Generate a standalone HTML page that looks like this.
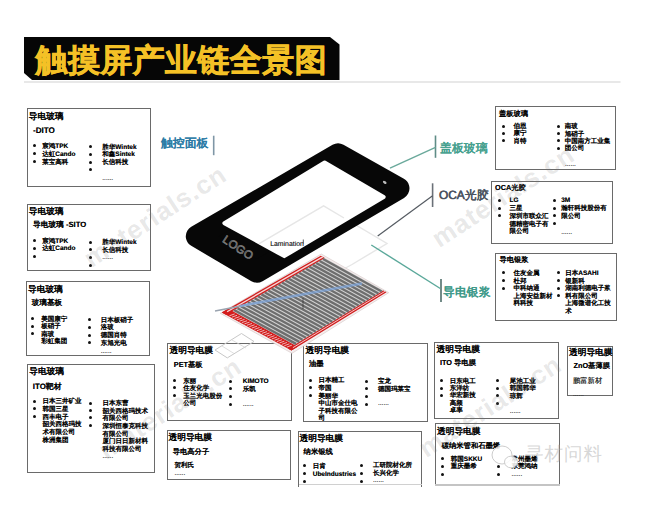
<!DOCTYPE html><html><head><meta charset="utf-8"><style>
*{margin:0;padding:0;box-sizing:border-box}
html,body{width:660px;height:508px;overflow:hidden;background:#fff}
body{position:relative;font-family:"Liberation Sans",sans-serif;text-rendering:geometricPrecision}
.t{position:absolute;white-space:nowrap;color:#000;text-shadow:0 0 0.5px rgba(0,0,0,0.55)}
.nt{text-shadow:none}
.ct{text-shadow:0 0 0.4px currentColor}
.b{position:absolute;border-radius:50%;background:#111}
.bx{position:absolute;border-style:solid;background:transparent}
svg{position:absolute;left:0;top:0}
</style></head><body><svg width="660" height="508" style="z-index:0">
<polygon points="24,37 330,37 339.5,44.5 339.5,80 32,80 24,73" fill="#060606"/>
<line x1="24" y1="82" x2="620.5" y2="82" stroke="#e0e0e0" stroke-width="1.3"/>
</svg>
<div class="t nt" style="left:35.5px;top:39.5px;font-size:31.9px;line-height:40px;font-weight:bold;color:#f4c126;letter-spacing:0.5px;-webkit-text-stroke:0.6px #f4c126">触摸屏产业链全景图</div>
<div class="bx" style="left:26.80px;top:108.30px;width:124.40px;height:78.90px;border-width:1.4px;border-color:#6a6a6a;"></div>
<div class="t" style="left:28.8px;top:110.84px;font-size:8.7px;line-height:11.31px;font-weight:bold;color:#000;letter-spacing:0px;">导电玻璃</div>
<div class="t" style="left:33.0px;top:125.73px;font-size:8.1px;line-height:10.53px;font-weight:bold;color:#000;letter-spacing:0px;">-DITO</div>
<div class="b" style="left:32.90px;top:143.80px;width:3.00px;height:3.00px"></div>
<div class="b" style="left:32.90px;top:151.80px;width:3.00px;height:3.00px"></div>
<div class="b" style="left:32.90px;top:159.70px;width:3.00px;height:3.00px"></div>
<div class="t" style="left:42.3px;top:142.98px;font-size:6.5px;line-height:8.45px;font-weight:bold;color:#000;letter-spacing:0px;">宸鸿TPK</div>
<div class="t" style="left:42.3px;top:150.78px;font-size:6.5px;line-height:8.45px;font-weight:bold;color:#000;letter-spacing:0px;">达虹Cando</div>
<div class="t" style="left:42.3px;top:158.58px;font-size:6.5px;line-height:8.45px;font-weight:bold;color:#000;letter-spacing:0px;">莱宝高科</div>
<div class="b" style="left:89.20px;top:144.90px;width:3.00px;height:3.00px"></div>
<div class="b" style="left:89.20px;top:152.90px;width:3.00px;height:3.00px"></div>
<div class="b" style="left:89.20px;top:160.50px;width:3.00px;height:3.00px"></div>
<div class="b" style="left:89.20px;top:168.00px;width:3.00px;height:3.00px"></div>
<div class="t" style="left:102.3px;top:143.58px;font-size:6.5px;line-height:8.45px;font-weight:bold;color:#000;letter-spacing:0px;">胜华Wintek</div>
<div class="t" style="left:102.3px;top:151.38px;font-size:6.5px;line-height:8.45px;font-weight:bold;color:#000;letter-spacing:0px;">和鑫Sintek</div>
<div class="t" style="left:102.3px;top:159.18px;font-size:6.5px;line-height:8.45px;font-weight:bold;color:#000;letter-spacing:0px;">长信科技</div>
<div class="t ct" style="left:102.3px;top:174.68px;font-size:6.5px;line-height:8.45px;font-weight:normal;color:#333;letter-spacing:0px;">......</div>
<div class="bx" style="left:26.80px;top:203.80px;width:124.40px;height:67.40px;border-width:1.4px;border-color:#6a6a6a;"></div>
<div class="t" style="left:28.8px;top:205.84px;font-size:8.7px;line-height:11.31px;font-weight:bold;color:#000;letter-spacing:0px;">导电玻璃</div>
<div class="t" style="left:33.0px;top:219.90px;font-size:7.7px;line-height:10.01px;font-weight:bold;color:#000;letter-spacing:0px;">导电玻璃 -SITO</div>
<div class="b" style="left:32.90px;top:239.10px;width:3.00px;height:3.00px"></div>
<div class="b" style="left:32.90px;top:246.70px;width:3.00px;height:3.00px"></div>
<div class="b" style="left:32.90px;top:255.00px;width:3.00px;height:3.00px"></div>
<div class="t" style="left:42.3px;top:237.78px;font-size:6.5px;line-height:8.45px;font-weight:bold;color:#000;letter-spacing:0px;">宸鸿TPK</div>
<div class="t" style="left:42.3px;top:245.38px;font-size:6.5px;line-height:8.45px;font-weight:bold;color:#000;letter-spacing:0px;">达虹Cando</div>
<div class="b" style="left:89.20px;top:240.50px;width:3.00px;height:3.00px"></div>
<div class="b" style="left:89.20px;top:248.30px;width:3.00px;height:3.00px"></div>
<div class="b" style="left:89.20px;top:256.10px;width:3.00px;height:3.00px"></div>
<div class="b" style="left:89.20px;top:263.50px;width:3.00px;height:3.00px"></div>
<div class="t" style="left:102.3px;top:239.18px;font-size:6.5px;line-height:8.45px;font-weight:bold;color:#000;letter-spacing:0px;">胜华Wintek</div>
<div class="t" style="left:102.3px;top:246.98px;font-size:6.5px;line-height:8.45px;font-weight:bold;color:#000;letter-spacing:0px;">长信科技</div>
<div class="t ct" style="left:102.3px;top:254.37px;font-size:6.5px;line-height:8.45px;font-weight:normal;color:#333;letter-spacing:0px;">......</div>
<div class="bx" style="left:25.80px;top:281.10px;width:124.40px;height:75.30px;border-width:1.4px;border-color:#6a6a6a;"></div>
<div class="t" style="left:28.0px;top:283.75px;font-size:8.7px;line-height:11.31px;font-weight:bold;color:#000;letter-spacing:0px;">导电玻璃</div>
<div class="t" style="left:31.7px;top:297.86px;font-size:7.6px;line-height:9.88px;font-weight:bold;color:#000;letter-spacing:0px;">玻璃基板</div>
<div class="b" style="left:31.20px;top:317.00px;width:3.00px;height:3.00px"></div>
<div class="b" style="left:31.20px;top:324.50px;width:3.00px;height:3.00px"></div>
<div class="b" style="left:31.20px;top:331.50px;width:3.00px;height:3.00px"></div>
<div class="t" style="left:41.2px;top:315.67px;font-size:6.5px;line-height:8.45px;font-weight:bold;color:#000;letter-spacing:0px;">美国康宁</div>
<div class="t" style="left:41.2px;top:323.12px;font-size:6.5px;line-height:8.45px;font-weight:bold;color:#000;letter-spacing:0px;">板硝子</div>
<div class="t" style="left:41.2px;top:330.57px;font-size:6.5px;line-height:8.45px;font-weight:bold;color:#000;letter-spacing:0px;">南玻</div>
<div class="t" style="left:41.2px;top:338.02px;font-size:6.5px;line-height:8.45px;font-weight:bold;color:#000;letter-spacing:0px;">彩虹集团</div>
<div class="b" style="left:87.50px;top:318.10px;width:3.00px;height:3.00px"></div>
<div class="b" style="left:87.50px;top:325.50px;width:3.00px;height:3.00px"></div>
<div class="b" style="left:87.50px;top:333.50px;width:3.00px;height:3.00px"></div>
<div class="b" style="left:87.50px;top:341.00px;width:3.00px;height:3.00px"></div>
<div class="t" style="left:100.7px;top:316.77px;font-size:6.5px;line-height:8.45px;font-weight:bold;color:#000;letter-spacing:0px;">日本板硝子</div>
<div class="t" style="left:100.7px;top:324.42px;font-size:6.5px;line-height:8.45px;font-weight:bold;color:#000;letter-spacing:0px;">洛玻</div>
<div class="t" style="left:100.7px;top:332.07px;font-size:6.5px;line-height:8.45px;font-weight:bold;color:#000;letter-spacing:0px;">德国肖特</div>
<div class="t" style="left:100.7px;top:339.72px;font-size:6.5px;line-height:8.45px;font-weight:bold;color:#000;letter-spacing:0px;">东旭光电</div>
<div class="t ct" style="left:100.7px;top:347.57px;font-size:6.5px;line-height:8.45px;font-weight:normal;color:#333;letter-spacing:0px;">......</div>
<div class="bx" style="left:26.70px;top:363.60px;width:128.70px;height:109.60px;border-width:1.4px;border-color:#6a6a6a;"></div>
<div class="t" style="left:29.3px;top:366.05px;font-size:8.7px;line-height:11.31px;font-weight:bold;color:#000;letter-spacing:0px;">导电玻璃</div>
<div class="t" style="left:32.8px;top:381.76px;font-size:7.9px;line-height:10.27px;font-weight:bold;color:#000;letter-spacing:0px;">ITO靶材</div>
<div class="b" style="left:33.25px;top:399.70px;width:3.00px;height:3.00px"></div>
<div class="b" style="left:33.25px;top:407.10px;width:3.00px;height:3.00px"></div>
<div class="b" style="left:33.25px;top:414.50px;width:3.00px;height:3.00px"></div>
<div class="t" style="left:42.6px;top:398.37px;font-size:6.5px;line-height:8.45px;font-weight:bold;color:#000;letter-spacing:0px;">日本三井矿业</div>
<div class="t" style="left:42.6px;top:406.07px;font-size:6.5px;line-height:8.45px;font-weight:bold;color:#000;letter-spacing:0px;">韩国三星</div>
<div class="t" style="left:42.6px;top:413.77px;font-size:6.5px;line-height:8.45px;font-weight:bold;color:#000;letter-spacing:0px;">西丰电子</div>
<div class="t" style="left:42.6px;top:421.47px;font-size:6.5px;line-height:8.45px;font-weight:bold;color:#000;letter-spacing:0px;">韶关西格玛技</div>
<div class="t" style="left:42.6px;top:429.17px;font-size:6.5px;line-height:8.45px;font-weight:bold;color:#000;letter-spacing:0px;">术有限公司</div>
<div class="t" style="left:42.6px;top:436.87px;font-size:6.5px;line-height:8.45px;font-weight:bold;color:#000;letter-spacing:0px;">株洲集团</div>
<div class="b" style="left:89.30px;top:401.50px;width:3.00px;height:3.00px"></div>
<div class="b" style="left:89.30px;top:408.80px;width:3.00px;height:3.00px"></div>
<div class="b" style="left:89.30px;top:416.20px;width:3.00px;height:3.00px"></div>
<div class="b" style="left:89.30px;top:423.50px;width:3.00px;height:3.00px"></div>
<div class="t" style="left:102.4px;top:400.17px;font-size:6.5px;line-height:8.45px;font-weight:bold;color:#000;letter-spacing:0px;">日本东曹</div>
<div class="t" style="left:102.4px;top:407.77px;font-size:6.5px;line-height:8.45px;font-weight:bold;color:#000;letter-spacing:0px;">韶关西格玛技术</div>
<div class="t" style="left:102.4px;top:415.37px;font-size:6.5px;line-height:8.45px;font-weight:bold;color:#000;letter-spacing:0px;">有限公司</div>
<div class="t" style="left:102.4px;top:422.97px;font-size:6.5px;line-height:8.45px;font-weight:bold;color:#000;letter-spacing:0px;">深圳恒泰克科技</div>
<div class="t" style="left:102.4px;top:430.57px;font-size:6.5px;line-height:8.45px;font-weight:bold;color:#000;letter-spacing:0px;">有限公司</div>
<div class="t" style="left:102.4px;top:438.17px;font-size:6.5px;line-height:8.45px;font-weight:bold;color:#000;letter-spacing:0px;">厦门日日新材料</div>
<div class="t" style="left:102.4px;top:445.77px;font-size:6.5px;line-height:8.45px;font-weight:bold;color:#000;letter-spacing:0px;">科技有限公司</div>
<div class="t ct" style="left:102.4px;top:452.67px;font-size:6.5px;line-height:8.45px;font-weight:normal;color:#333;letter-spacing:0px;">......</div>
<div class="bx" style="left:167.20px;top:342.60px;width:125.20px;height:78.60px;border-width:1.4px;border-color:#6a6a6a;"></div>
<div class="t" style="left:169.5px;top:345.15px;font-size:8.7px;line-height:11.31px;font-weight:bold;color:#000;letter-spacing:0px;">透明导电膜</div>
<div class="t" style="left:173.8px;top:359.75px;font-size:7.3px;line-height:9.49px;font-weight:bold;color:#000;letter-spacing:0px;">PET基板</div>
<div class="b" style="left:173.30px;top:379.20px;width:3.00px;height:3.00px"></div>
<div class="b" style="left:173.30px;top:386.30px;width:3.00px;height:3.00px"></div>
<div class="b" style="left:173.30px;top:393.50px;width:3.00px;height:3.00px"></div>
<div class="t" style="left:183.2px;top:377.87px;font-size:6.5px;line-height:8.45px;font-weight:bold;color:#000;letter-spacing:0px;">东丽</div>
<div class="t" style="left:183.2px;top:385.32px;font-size:6.5px;line-height:8.45px;font-weight:bold;color:#000;letter-spacing:0px;">住友化学</div>
<div class="t" style="left:183.2px;top:392.77px;font-size:6.5px;line-height:8.45px;font-weight:bold;color:#000;letter-spacing:0px;">玉兰光电股份</div>
<div class="t" style="left:183.2px;top:400.22px;font-size:6.5px;line-height:8.45px;font-weight:bold;color:#000;letter-spacing:0px;">公司</div>
<div class="b" style="left:228.80px;top:380.40px;width:3.00px;height:3.00px"></div>
<div class="b" style="left:228.80px;top:387.30px;width:3.00px;height:3.00px"></div>
<div class="b" style="left:228.80px;top:395.20px;width:3.00px;height:3.00px"></div>
<div class="b" style="left:228.80px;top:402.50px;width:3.00px;height:3.00px"></div>
<div class="t" style="left:242.7px;top:378.17px;font-size:6.5px;line-height:8.45px;font-weight:bold;color:#000;letter-spacing:0px;">KIMOTO</div>
<div class="t" style="left:242.7px;top:385.77px;font-size:6.5px;line-height:8.45px;font-weight:bold;color:#000;letter-spacing:0px;">乐凯</div>
<div class="t ct" style="left:242.7px;top:401.17px;font-size:6.5px;line-height:8.45px;font-weight:normal;color:#333;letter-spacing:0px;">......</div>
<div class="bx" style="left:166.70px;top:429.50px;width:124.50px;height:50.60px;border-width:1.4px;border-color:#6a6a6a;"></div>
<div class="t" style="left:168.5px;top:431.75px;font-size:8.7px;line-height:11.31px;font-weight:bold;color:#000;letter-spacing:0px;">透明导电膜</div>
<div class="t" style="left:172.7px;top:446.65px;font-size:7.3px;line-height:9.49px;font-weight:bold;color:#000;letter-spacing:0px;">导电高分子</div>
<div class="t" style="left:174.4px;top:461.67px;font-size:6.5px;line-height:8.45px;font-weight:bold;color:#000;letter-spacing:0px;">贺利氏</div>
<div class="t ct" style="left:174.4px;top:469.67px;font-size:6.5px;line-height:8.45px;font-weight:normal;color:#333;letter-spacing:0px;">......</div>
<div class="bx" style="left:303.10px;top:342.90px;width:124.60px;height:78.80px;border-width:1.4px;border-color:#6a6a6a;"></div>
<div class="t" style="left:305.6px;top:345.15px;font-size:8.7px;line-height:11.31px;font-weight:bold;color:#000;letter-spacing:0px;">透明导电膜</div>
<div class="t" style="left:309.0px;top:359.06px;font-size:7.3px;line-height:9.49px;font-weight:bold;color:#000;letter-spacing:0px;">油墨</div>
<div class="b" style="left:308.80px;top:378.80px;width:3.00px;height:3.00px"></div>
<div class="b" style="left:308.80px;top:386.20px;width:3.00px;height:3.00px"></div>
<div class="b" style="left:308.80px;top:393.90px;width:3.00px;height:3.00px"></div>
<div class="t" style="left:318.5px;top:377.47px;font-size:6.5px;line-height:8.45px;font-weight:bold;color:#000;letter-spacing:0px;">日本精工</div>
<div class="t" style="left:318.5px;top:385.07px;font-size:6.5px;line-height:8.45px;font-weight:bold;color:#000;letter-spacing:0px;">帝国</div>
<div class="t" style="left:318.5px;top:392.67px;font-size:6.5px;line-height:8.45px;font-weight:bold;color:#000;letter-spacing:0px;">美丽华</div>
<div class="t" style="left:318.5px;top:400.27px;font-size:6.5px;line-height:8.45px;font-weight:bold;color:#000;letter-spacing:0px;">中山市金仕电</div>
<div class="t" style="left:318.5px;top:407.87px;font-size:6.5px;line-height:8.45px;font-weight:bold;color:#000;letter-spacing:0px;">子科技有限公</div>
<div class="t" style="left:318.5px;top:415.47px;font-size:6.5px;line-height:8.45px;font-weight:bold;color:#000;letter-spacing:0px;">司</div>
<div class="b" style="left:365.10px;top:379.50px;width:3.00px;height:3.00px"></div>
<div class="b" style="left:365.10px;top:386.80px;width:3.00px;height:3.00px"></div>
<div class="b" style="left:365.10px;top:394.80px;width:3.00px;height:3.00px"></div>
<div class="b" style="left:365.10px;top:402.50px;width:3.00px;height:3.00px"></div>
<div class="t" style="left:378.0px;top:378.17px;font-size:6.5px;line-height:8.45px;font-weight:bold;color:#000;letter-spacing:0px;">宝龙</div>
<div class="t" style="left:378.0px;top:385.57px;font-size:6.5px;line-height:8.45px;font-weight:bold;color:#000;letter-spacing:0px;">德国玛莱宝</div>
<div class="t ct" style="left:378.0px;top:400.27px;font-size:6.5px;line-height:8.45px;font-weight:normal;color:#333;letter-spacing:0px;">......</div>
<div class="bx" style="left:297.90px;top:430.70px;width:124.60px;height:56.00px;border-width:1.4px;border-color:#6a6a6a;border-bottom:none;"></div>
<div style="position:absolute;left:298.6px;top:483.6px;width:123.2px;height:1px;background:#d0d0d0"></div>
<div class="t" style="left:299.5px;top:432.95px;font-size:8.7px;line-height:11.31px;font-weight:bold;color:#000;letter-spacing:0px;">透明导电膜</div>
<div class="t" style="left:303.6px;top:447.06px;font-size:7.3px;line-height:9.49px;font-weight:bold;color:#000;letter-spacing:0px;">纳米银线</div>
<div class="b" style="left:303.30px;top:464.00px;width:3.00px;height:3.00px"></div>
<div class="b" style="left:303.30px;top:471.90px;width:3.00px;height:3.00px"></div>
<div class="b" style="left:303.30px;top:479.50px;width:3.00px;height:3.00px"></div>
<div class="t" style="left:312.7px;top:462.67px;font-size:6.5px;line-height:8.45px;font-weight:bold;color:#000;letter-spacing:0px;">日肯</div>
<div class="t" style="left:312.7px;top:470.57px;font-size:6.5px;line-height:8.45px;font-weight:bold;color:#000;letter-spacing:0px;">UbeIndustries</div>
<div class="b" style="left:360.10px;top:463.50px;width:3.00px;height:3.00px"></div>
<div class="b" style="left:360.10px;top:471.50px;width:3.00px;height:3.00px"></div>
<div class="b" style="left:360.10px;top:479.50px;width:3.00px;height:3.00px"></div>
<div class="t" style="left:373.0px;top:462.17px;font-size:6.5px;line-height:8.45px;font-weight:bold;color:#000;letter-spacing:0px;">工研院材化所</div>
<div class="t" style="left:373.0px;top:470.07px;font-size:6.5px;line-height:8.45px;font-weight:bold;color:#000;letter-spacing:0px;">长兴化学</div>
<div class="t ct" style="left:373.0px;top:477.47px;font-size:6.5px;line-height:8.45px;font-weight:normal;color:#333;letter-spacing:0px;">......</div>
<div class="bx" style="left:434.00px;top:341.90px;width:124.70px;height:77.10px;border-width:1.4px;border-color:#6a6a6a;"></div>
<div class="t" style="left:436.5px;top:343.85px;font-size:8.7px;line-height:11.31px;font-weight:bold;color:#000;letter-spacing:0px;">透明导电膜</div>
<div class="t" style="left:440.0px;top:358.45px;font-size:7.3px;line-height:9.49px;font-weight:bold;color:#000;letter-spacing:0px;">ITO 导电膜</div>
<div class="b" style="left:440.20px;top:379.00px;width:3.00px;height:3.00px"></div>
<div class="b" style="left:440.20px;top:386.50px;width:3.00px;height:3.00px"></div>
<div class="b" style="left:440.20px;top:394.10px;width:3.00px;height:3.00px"></div>
<div class="t" style="left:449.8px;top:377.67px;font-size:6.5px;line-height:8.45px;font-weight:bold;color:#000;letter-spacing:0px;">日东电工</div>
<div class="t" style="left:449.8px;top:384.97px;font-size:6.5px;line-height:8.45px;font-weight:bold;color:#000;letter-spacing:0px;">东洋纺</div>
<div class="t" style="left:449.8px;top:392.27px;font-size:6.5px;line-height:8.45px;font-weight:bold;color:#000;letter-spacing:0px;">华宏新技</div>
<div class="t" style="left:449.8px;top:399.57px;font-size:6.5px;line-height:8.45px;font-weight:bold;color:#000;letter-spacing:0px;">高频</div>
<div class="t" style="left:449.8px;top:406.87px;font-size:6.5px;line-height:8.45px;font-weight:bold;color:#000;letter-spacing:0px;">卓率</div>
<div class="b" style="left:496.20px;top:379.00px;width:3.00px;height:3.00px"></div>
<div class="b" style="left:496.20px;top:386.50px;width:3.00px;height:3.00px"></div>
<div class="b" style="left:496.20px;top:394.10px;width:3.00px;height:3.00px"></div>
<div class="b" style="left:496.20px;top:401.50px;width:3.00px;height:3.00px"></div>
<div class="t" style="left:509.8px;top:377.67px;font-size:6.5px;line-height:8.45px;font-weight:bold;color:#000;letter-spacing:0px;">尾池工业</div>
<div class="t" style="left:509.8px;top:385.22px;font-size:6.5px;line-height:8.45px;font-weight:bold;color:#000;letter-spacing:0px;">韩国韩华</div>
<div class="t" style="left:509.8px;top:392.77px;font-size:6.5px;line-height:8.45px;font-weight:bold;color:#000;letter-spacing:0px;">琼辉</div>
<div class="t ct" style="left:509.8px;top:407.67px;font-size:6.5px;line-height:8.45px;font-weight:normal;color:#333;letter-spacing:0px;">......</div>
<div class="bx" style="left:434.90px;top:423.30px;width:124.80px;height:62.40px;border-width:1.4px;border-color:#6a6a6a;"></div>
<div style="position:absolute;left:435px;top:484.3px;width:124.6px;height:1.4px;background:#c4c4c4"></div>
<div class="t" style="left:437.0px;top:426.05px;font-size:8.7px;line-height:11.31px;font-weight:bold;color:#000;letter-spacing:0px;">透明导电膜</div>
<div class="t" style="left:441.7px;top:440.56px;font-size:7.3px;line-height:9.49px;font-weight:bold;color:#000;letter-spacing:0px;">碳纳米管和石墨烯</div>
<div class="b" style="left:441.10px;top:456.90px;width:3.00px;height:3.00px"></div>
<div class="b" style="left:441.10px;top:464.90px;width:3.00px;height:3.00px"></div>
<div class="b" style="left:441.10px;top:472.70px;width:3.00px;height:3.00px"></div>
<div class="t" style="left:450.8px;top:455.57px;font-size:6.5px;line-height:8.45px;font-weight:bold;color:#000;letter-spacing:0px;">韩国SKKU</div>
<div class="t" style="left:450.8px;top:463.37px;font-size:6.5px;line-height:8.45px;font-weight:bold;color:#000;letter-spacing:0px;">重庆墨希</div>
<div class="b" style="left:496.80px;top:464.90px;width:3.00px;height:3.00px"></div>
<div class="b" style="left:496.80px;top:472.70px;width:3.00px;height:3.00px"></div>
<div class="t" style="left:511.4px;top:455.57px;font-size:6.5px;line-height:8.45px;font-weight:bold;color:#000;letter-spacing:0px;">常州墨烯</div>
<div class="t" style="left:511.4px;top:463.37px;font-size:6.5px;line-height:8.45px;font-weight:bold;color:#000;letter-spacing:0px;">东莞鸿纳</div>
<div class="t ct" style="left:511.4px;top:471.17px;font-size:6.5px;line-height:8.45px;font-weight:normal;color:#333;letter-spacing:0px;">......</div>
<div class="bx" style="left:566.70px;top:345.50px;width:46.20px;height:50.50px;border-width:1.4px;border-color:#6a6a6a;"></div>
<div class="t" style="left:569.0px;top:347.35px;font-size:8.7px;line-height:11.31px;font-weight:bold;color:#000;letter-spacing:0px;">透明导电膜</div>
<div class="t" style="left:573.5px;top:361.45px;font-size:7.3px;line-height:9.49px;font-weight:bold;color:#000;letter-spacing:0px;">ZnO基薄膜</div>
<div class="t ct" style="left:573.0px;top:375.75px;font-size:7.3px;line-height:9.49px;font-weight:normal;color:#333;letter-spacing:0px;">鹏富新材</div>
<div class="t ct" style="left:573.0px;top:390.67px;font-size:6.5px;line-height:8.45px;font-weight:normal;color:#333;letter-spacing:0px;">......</div>
<div class="bx" style="left:495.10px;top:105.90px;width:120.90px;height:63.80px;border-width:1.4px;border-color:#6a6a6a;"></div>
<div class="t" style="left:498.9px;top:109.16px;font-size:7.3px;line-height:9.49px;font-weight:bold;color:#000;letter-spacing:0px;">盖板玻璃</div>
<div class="b" style="left:501.50px;top:124.50px;width:3.00px;height:3.00px"></div>
<div class="b" style="left:501.50px;top:131.80px;width:3.00px;height:3.00px"></div>
<div class="b" style="left:501.50px;top:139.10px;width:3.00px;height:3.00px"></div>
<div class="t" style="left:513.5px;top:123.18px;font-size:6.5px;line-height:8.45px;font-weight:bold;color:#000;letter-spacing:0px;">伯恩</div>
<div class="t" style="left:513.5px;top:130.48px;font-size:6.5px;line-height:8.45px;font-weight:bold;color:#000;letter-spacing:0px;">康宁</div>
<div class="t" style="left:513.5px;top:137.78px;font-size:6.5px;line-height:8.45px;font-weight:bold;color:#000;letter-spacing:0px;">肖特</div>
<div class="b" style="left:556.50px;top:124.50px;width:3.00px;height:3.00px"></div>
<div class="b" style="left:556.50px;top:131.80px;width:3.00px;height:3.00px"></div>
<div class="b" style="left:556.50px;top:139.10px;width:3.00px;height:3.00px"></div>
<div class="b" style="left:556.50px;top:146.80px;width:3.00px;height:3.00px"></div>
<div class="t" style="left:564.8px;top:123.18px;font-size:6.5px;line-height:8.45px;font-weight:bold;color:#000;letter-spacing:0px;">南玻</div>
<div class="t" style="left:564.8px;top:130.58px;font-size:6.5px;line-height:8.45px;font-weight:bold;color:#000;letter-spacing:0px;">旭硝子</div>
<div class="t" style="left:564.8px;top:137.98px;font-size:6.5px;line-height:8.45px;font-weight:bold;color:#000;letter-spacing:0px;">中国南方工业集</div>
<div class="t" style="left:564.8px;top:145.38px;font-size:6.5px;line-height:8.45px;font-weight:bold;color:#000;letter-spacing:0px;">团公司</div>
<div class="t ct" style="left:565.0px;top:161.48px;font-size:6.5px;line-height:8.45px;font-weight:normal;color:#333;letter-spacing:0px;">......</div>
<div class="bx" style="left:490.90px;top:180.90px;width:122.60px;height:63.00px;border-width:1.4px;border-color:#6a6a6a;"></div>
<div class="t" style="left:495.0px;top:183.45px;font-size:7.3px;line-height:9.49px;font-weight:bold;color:#000;letter-spacing:0px;">OCA光胶</div>
<div class="b" style="left:497.90px;top:198.80px;width:3.00px;height:3.00px"></div>
<div class="b" style="left:497.90px;top:206.80px;width:3.00px;height:3.00px"></div>
<div class="b" style="left:497.90px;top:214.10px;width:3.00px;height:3.00px"></div>
<div class="t" style="left:509.6px;top:197.48px;font-size:6.5px;line-height:8.45px;font-weight:bold;color:#000;letter-spacing:0px;">LG</div>
<div class="t" style="left:509.6px;top:205.18px;font-size:6.5px;line-height:8.45px;font-weight:bold;color:#000;letter-spacing:0px;">三星</div>
<div class="t" style="left:509.6px;top:212.88px;font-size:6.5px;line-height:8.45px;font-weight:bold;color:#000;letter-spacing:0px;">深圳市联众汇</div>
<div class="t" style="left:509.6px;top:220.58px;font-size:6.5px;line-height:8.45px;font-weight:bold;color:#000;letter-spacing:0px;">德精密电子有</div>
<div class="t" style="left:509.6px;top:228.28px;font-size:6.5px;line-height:8.45px;font-weight:bold;color:#000;letter-spacing:0px;">限公司</div>
<div class="b" style="left:553.20px;top:198.80px;width:3.00px;height:3.00px"></div>
<div class="b" style="left:553.20px;top:206.80px;width:3.00px;height:3.00px"></div>
<div class="b" style="left:553.20px;top:214.10px;width:3.00px;height:3.00px"></div>
<div class="b" style="left:553.20px;top:221.80px;width:3.00px;height:3.00px"></div>
<div class="t" style="left:561.2px;top:197.48px;font-size:6.5px;line-height:8.45px;font-weight:bold;color:#000;letter-spacing:0px;">3M</div>
<div class="t" style="left:561.2px;top:205.13px;font-size:6.5px;line-height:8.45px;font-weight:bold;color:#000;letter-spacing:0px;">瀚轩科技股份有</div>
<div class="t" style="left:561.2px;top:212.78px;font-size:6.5px;line-height:8.45px;font-weight:bold;color:#000;letter-spacing:0px;">限公司</div>
<div class="t ct" style="left:561.2px;top:228.68px;font-size:6.5px;line-height:8.45px;font-weight:normal;color:#333;letter-spacing:0px;">......</div>
<div class="bx" style="left:495.10px;top:252.80px;width:121.80px;height:68.50px;border-width:1.4px;border-color:#6a6a6a;"></div>
<div class="t" style="left:499.4px;top:255.25px;font-size:7.3px;line-height:9.49px;font-weight:bold;color:#000;letter-spacing:0px;">导电银浆</div>
<div class="b" style="left:501.50px;top:271.40px;width:3.00px;height:3.00px"></div>
<div class="b" style="left:501.50px;top:278.70px;width:3.00px;height:3.00px"></div>
<div class="b" style="left:501.50px;top:286.70px;width:3.00px;height:3.00px"></div>
<div class="t" style="left:513.5px;top:270.07px;font-size:6.5px;line-height:8.45px;font-weight:bold;color:#000;letter-spacing:0px;">住友金属</div>
<div class="t" style="left:513.5px;top:277.67px;font-size:6.5px;line-height:8.45px;font-weight:bold;color:#000;letter-spacing:0px;">杜邦</div>
<div class="t" style="left:513.5px;top:285.27px;font-size:6.5px;line-height:8.45px;font-weight:bold;color:#000;letter-spacing:0px;">中科纳通</div>
<div class="t" style="left:513.5px;top:292.87px;font-size:6.5px;line-height:8.45px;font-weight:bold;color:#000;letter-spacing:0px;">上海安益新材</div>
<div class="t" style="left:513.5px;top:300.47px;font-size:6.5px;line-height:8.45px;font-weight:bold;color:#000;letter-spacing:0px;">料科技</div>
<div class="b" style="left:556.50px;top:271.40px;width:3.00px;height:3.00px"></div>
<div class="b" style="left:556.50px;top:278.70px;width:3.00px;height:3.00px"></div>
<div class="b" style="left:556.50px;top:286.70px;width:3.00px;height:3.00px"></div>
<div class="b" style="left:556.50px;top:294.40px;width:3.00px;height:3.00px"></div>
<div class="t" style="left:565.3px;top:270.07px;font-size:6.5px;line-height:8.45px;font-weight:bold;color:#000;letter-spacing:0px;">日本ASAHI</div>
<div class="t" style="left:565.3px;top:277.57px;font-size:6.5px;line-height:8.45px;font-weight:bold;color:#000;letter-spacing:0px;">银新科</div>
<div class="t" style="left:565.3px;top:285.07px;font-size:6.5px;line-height:8.45px;font-weight:bold;color:#000;letter-spacing:0px;">湖南利德电子浆</div>
<div class="t" style="left:565.3px;top:292.57px;font-size:6.5px;line-height:8.45px;font-weight:bold;color:#000;letter-spacing:0px;">料有限公司</div>
<div class="t" style="left:565.3px;top:300.07px;font-size:6.5px;line-height:8.45px;font-weight:bold;color:#000;letter-spacing:0px;">上海微谱化工技</div>
<div class="t" style="left:565.3px;top:307.57px;font-size:6.5px;line-height:8.45px;font-weight:bold;color:#000;letter-spacing:0px;">术</div>
<svg width="660" height="508" style="z-index:1">
<polyline points="323.60,205.90 387.00,243.50 352.00,264.50 340.00,271.00" fill="none" stroke="#e6e6e6" stroke-width="1.4"/>
<polygon points="196.79,236.34 338.08,154.28 398.47,188.40 256.98,271.72" fill="#070707" stroke="#070707" stroke-width="22" stroke-linejoin="round"/>
<polygon points="224.35,223.15 324.62,162.49 383.65,197.01 284.27,256.11" fill="#ffffff" stroke="#ffffff" stroke-width="4" stroke-linejoin="round"/>
<polyline points="258.80,243.80 323.60,205.90 344.00,218.00" fill="none" stroke="#e6e6e6" stroke-width="1.4"/>
<ellipse cx="384.7" cy="182.4" rx="2" ry="1.2" fill="#bbb" transform="rotate(31 384.7 182.4)"/>
</svg>
<div class="t nt" style="left:223px;top:233.5px;font-size:11.5px;line-height:11px;font-weight:normal;color:#3a3a3a;-webkit-text-stroke:0.6px #8a8a8a;letter-spacing:0.2px;transform:rotate(33deg);transform-origin:0 50%;z-index:2">LOGO</div>
<div class="t" style="left:270.2px;top:239.8px;font-size:6.9px;line-height:9px;color:#222;z-index:2">Lamination</div>
<svg width="660" height="508" style="z-index:2"><line x1="303.3" y1="239.5" x2="303.3" y2="243.5" stroke="#333" stroke-width="0.8"/></svg>
<svg width="660" height="508" style="z-index:3">
<polygon points="220.30,313.30 321.30,254.00 388.70,292.70 292.00,353.30" fill="#f6eeee" stroke="#d8cccc" stroke-width="0.7"/>
<polygon points="221.80,312.50 320.80,255.80 386.50,292.20 291.50,350.50" fill="#d2d2d2" />
<polygon points="221.80,312.50 228.24,308.81 297.68,346.71 291.50,350.50" fill="#d41c1c" />
<polygon points="221.80,312.50 320.80,255.80 324.74,257.98 225.98,314.78" fill="#d41c1c" />
<polygon points="288.15,348.68 383.35,290.45 386.50,292.20 291.50,350.50" fill="#d41c1c" />
<line x1="234.11" y1="310.10" x2="295.99" y2="343.88" stroke="#6e6e6e" stroke-width="2.3"/>
<line x1="237.53" y1="308.14" x2="299.29" y2="341.87" stroke="#6e6e6e" stroke-width="2.3"/>
<line x1="240.95" y1="306.17" x2="302.58" y2="339.85" stroke="#6e6e6e" stroke-width="2.3"/>
<line x1="244.37" y1="304.20" x2="305.88" y2="337.83" stroke="#6e6e6e" stroke-width="2.3"/>
<line x1="247.79" y1="302.24" x2="309.18" y2="335.82" stroke="#6e6e6e" stroke-width="2.3"/>
<line x1="251.21" y1="300.27" x2="312.47" y2="333.80" stroke="#6e6e6e" stroke-width="2.3"/>
<line x1="254.63" y1="298.30" x2="315.77" y2="331.79" stroke="#6e6e6e" stroke-width="2.3"/>
<line x1="258.05" y1="296.34" x2="319.07" y2="329.77" stroke="#6e6e6e" stroke-width="2.3"/>
<line x1="261.47" y1="294.37" x2="322.36" y2="327.75" stroke="#6e6e6e" stroke-width="2.3"/>
<line x1="264.89" y1="292.40" x2="325.66" y2="325.74" stroke="#6e6e6e" stroke-width="2.3"/>
<line x1="268.31" y1="290.44" x2="328.95" y2="323.72" stroke="#6e6e6e" stroke-width="2.3"/>
<line x1="271.73" y1="288.47" x2="332.25" y2="321.70" stroke="#6e6e6e" stroke-width="2.3"/>
<line x1="275.15" y1="286.50" x2="335.55" y2="319.69" stroke="#6e6e6e" stroke-width="2.3"/>
<line x1="278.57" y1="284.54" x2="338.84" y2="317.67" stroke="#6e6e6e" stroke-width="2.3"/>
<line x1="281.99" y1="282.57" x2="342.14" y2="315.66" stroke="#6e6e6e" stroke-width="2.3"/>
<line x1="285.41" y1="280.60" x2="345.44" y2="313.64" stroke="#6e6e6e" stroke-width="2.3"/>
<line x1="288.83" y1="278.64" x2="348.73" y2="311.62" stroke="#6e6e6e" stroke-width="2.3"/>
<line x1="292.25" y1="276.67" x2="352.03" y2="309.61" stroke="#6e6e6e" stroke-width="2.3"/>
<line x1="295.67" y1="274.70" x2="355.33" y2="307.59" stroke="#6e6e6e" stroke-width="2.3"/>
<line x1="299.09" y1="272.74" x2="358.62" y2="305.57" stroke="#6e6e6e" stroke-width="2.3"/>
<line x1="302.51" y1="270.77" x2="361.92" y2="303.56" stroke="#6e6e6e" stroke-width="2.3"/>
<line x1="305.93" y1="268.80" x2="365.22" y2="301.54" stroke="#6e6e6e" stroke-width="2.3"/>
<line x1="309.35" y1="266.83" x2="368.51" y2="299.53" stroke="#6e6e6e" stroke-width="2.3"/>
<line x1="312.77" y1="264.87" x2="371.81" y2="297.51" stroke="#6e6e6e" stroke-width="2.3"/>
<line x1="316.19" y1="262.90" x2="375.11" y2="295.49" stroke="#6e6e6e" stroke-width="2.3"/>
<line x1="319.61" y1="260.93" x2="378.40" y2="293.48" stroke="#6e6e6e" stroke-width="2.3"/>
<line x1="323.03" y1="258.97" x2="381.70" y2="291.46" stroke="#6e6e6e" stroke-width="2.3"/>
<line x1="227.10" y1="311.80" x2="322.77" y2="256.89" stroke="#f6dada" stroke-width="1.3"/>
<line x1="292.92" y1="347.69" x2="384.92" y2="291.33" stroke="#f6dada" stroke-width="0.9"/>
<line x1="229.41" y1="315.77" x2="234.60" y2="313.95" stroke="#f1c4c4" stroke-width="0.9"/>
<line x1="231.91" y1="317.13" x2="237.09" y2="315.31" stroke="#f1c4c4" stroke-width="0.9"/>
<line x1="234.41" y1="318.49" x2="239.58" y2="316.66" stroke="#f1c4c4" stroke-width="0.9"/>
<line x1="236.90" y1="319.85" x2="242.07" y2="318.02" stroke="#f1c4c4" stroke-width="0.9"/>
<line x1="239.40" y1="321.21" x2="244.56" y2="319.38" stroke="#f1c4c4" stroke-width="0.9"/>
<line x1="241.90" y1="322.57" x2="247.05" y2="320.74" stroke="#f1c4c4" stroke-width="0.9"/>
<line x1="244.39" y1="323.93" x2="249.54" y2="322.10" stroke="#f1c4c4" stroke-width="0.9"/>
<line x1="246.89" y1="325.29" x2="252.03" y2="323.46" stroke="#f1c4c4" stroke-width="0.9"/>
<line x1="249.39" y1="326.66" x2="254.52" y2="324.82" stroke="#f1c4c4" stroke-width="0.9"/>
<line x1="251.88" y1="328.02" x2="257.01" y2="326.18" stroke="#f1c4c4" stroke-width="0.9"/>
<line x1="254.38" y1="329.38" x2="259.50" y2="327.53" stroke="#f1c4c4" stroke-width="0.9"/>
<line x1="256.87" y1="330.74" x2="261.99" y2="328.89" stroke="#f1c4c4" stroke-width="0.9"/>
<line x1="259.37" y1="332.10" x2="264.48" y2="330.25" stroke="#f1c4c4" stroke-width="0.9"/>
<line x1="261.87" y1="333.46" x2="266.97" y2="331.61" stroke="#f1c4c4" stroke-width="0.9"/>
<line x1="264.36" y1="334.82" x2="269.46" y2="332.97" stroke="#f1c4c4" stroke-width="0.9"/>
<line x1="266.86" y1="336.18" x2="271.95" y2="334.33" stroke="#f1c4c4" stroke-width="0.9"/>
<line x1="269.36" y1="337.55" x2="274.44" y2="335.69" stroke="#f1c4c4" stroke-width="0.9"/>
<line x1="271.85" y1="338.91" x2="276.93" y2="337.05" stroke="#f1c4c4" stroke-width="0.9"/>
<line x1="274.35" y1="340.27" x2="279.43" y2="338.41" stroke="#f1c4c4" stroke-width="0.9"/>
<line x1="276.85" y1="341.63" x2="281.92" y2="339.76" stroke="#f1c4c4" stroke-width="0.9"/>
<line x1="279.34" y1="342.99" x2="284.41" y2="341.12" stroke="#f1c4c4" stroke-width="0.9"/>
<line x1="281.84" y1="344.35" x2="286.90" y2="342.48" stroke="#f1c4c4" stroke-width="0.9"/>
<line x1="284.34" y1="345.71" x2="289.39" y2="343.84" stroke="#f1c4c4" stroke-width="0.9"/>
<line x1="286.83" y1="347.07" x2="291.88" y2="345.20" stroke="#f1c4c4" stroke-width="0.9"/>
<line x1="215" y1="311" x2="262" y2="302" stroke="#9aa4b0" stroke-width="1.6"/>
<line x1="240" y1="306" x2="362" y2="283.5" stroke="#7fa8e0" stroke-width="2.6" opacity="0.7"/>
<line x1="303" y1="298" x2="303" y2="309" stroke="#222" stroke-width="0.6"/>
<polygon points="215.00,350.00 227.30,357.90 254.00,341.50 241.50,333.50" fill="none" stroke="#c8c8c8" stroke-width="1"/>
<polyline points="222.00,346.00 234.00,353.50" fill="none" stroke="#d6d6d6" stroke-width="0.8"/>
<polyline points="232.00,340.00 246.00,348.00" fill="none" stroke="#d6d6d6" stroke-width="0.8"/>
</svg>
<svg width="660" height="508" style="z-index:4">
<line x1="213.7" y1="135.7" x2="213.7" y2="155.2" stroke="#7f96a6" stroke-width="1.6"/>
<line x1="435.5" y1="135.5" x2="435.5" y2="157.8" stroke="#5f8c86" stroke-width="1.6"/>
<line x1="435.5" y1="147.3" x2="390" y2="168.2" stroke="#6aa99b" stroke-width="1.4"/>
<line x1="432.6" y1="183.3" x2="432.6" y2="207" stroke="#6a7078" stroke-width="1.6"/>
<line x1="432.6" y1="195.8" x2="377.7" y2="236" stroke="#555b62" stroke-width="1.2"/>
<line x1="441" y1="279" x2="441" y2="302" stroke="#4f6e6a" stroke-width="1.6"/>
<line x1="371.3" y1="245" x2="440.3" y2="288.5" stroke="#5aa89a" stroke-width="1.4"/>
</svg>
<div class="t ct" style="left:160.9px;top:136.26px;font-size:11.9px;line-height:15.47px;font-weight:normal;color:#2a7aa5;letter-spacing:0px;z-index:4;-webkit-text-stroke:0.45px currentColor;">触控面板</div>
<div class="t ct" style="left:440.0px;top:140.96px;font-size:11.9px;line-height:15.47px;font-weight:normal;color:#45a08e;letter-spacing:0px;z-index:4;-webkit-text-stroke:0.45px currentColor;">盖板玻璃</div>
<div class="t ct" style="left:439.0px;top:188.36px;font-size:11.9px;line-height:15.47px;font-weight:normal;color:#4b5360;letter-spacing:0px;z-index:4;-webkit-text-stroke:0.45px currentColor;">OCA光胶</div>
<div class="t ct" style="left:443.0px;top:285.06px;font-size:11.9px;line-height:15.47px;font-weight:normal;color:#3f9a8a;letter-spacing:0px;z-index:4;-webkit-text-stroke:0.45px currentColor;">导电银浆</div>
<div class="t nt" style="left:155px;top:216px;font-size:26px;line-height:26px;font-weight:bold;color:rgba(120,120,120,0.18);transform:translate(-50%,-50%) rotate(-33deg);transform-origin:50% 50%;z-index:6;letter-spacing:1px">materials.cn</div>
<div class="t nt" style="left:503px;top:196px;font-size:26px;line-height:26px;font-weight:bold;color:rgba(120,120,120,0.18);transform:translate(-50%,-50%) rotate(-33deg);transform-origin:50% 50%;z-index:6;letter-spacing:1px">materials.cn</div>
<div class="t nt" style="left:489.5px;top:405.5px;font-size:26px;line-height:26px;font-weight:bold;color:rgba(120,120,120,0.18);transform:translate(-50%,-50%) rotate(-33deg);transform-origin:50% 50%;z-index:6;letter-spacing:1px">materials.cn</div>
<div class="t nt" style="left:170px;top:408px;font-size:26px;line-height:26px;font-weight:bold;color:rgba(120,120,120,0.18);transform:translate(-50%,-50%) rotate(-33deg);transform-origin:50% 50%;z-index:6;letter-spacing:1px">materials.cn</div>
<svg width="660" height="508" style="z-index:6"><g fill="rgba(255,255,255,0.85)" stroke="#cdcdcd" stroke-width="1"><ellipse cx="502" cy="455" rx="10" ry="9"/><ellipse cx="511" cy="462" rx="6.5" ry="5.8"/></g></svg>
<div class="t nt" style="left:525px;top:443px;font-size:18.5px;line-height:22px;color:rgba(175,175,175,0.5);letter-spacing:1px;z-index:6;-webkit-text-stroke:0">寻材问料</div></body></html>
